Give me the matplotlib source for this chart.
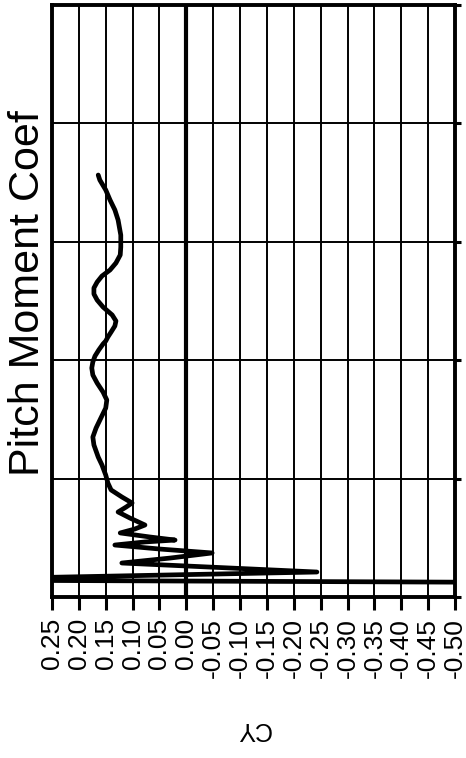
import matplotlib
matplotlib.use("Agg")
import matplotlib.pyplot as plt

plt.rcParams['font.family'] = ['Liberation Sans', 'DejaVu Sans']

# time (arbitrary units, one gridline = 1) and pitch moment coefficient CY
time = [0.118, 0.144, 0.211, 0.287, 0.329, 0.372, 0.405, 0.439, 0.465, 0.481,
        0.507, 0.541, 0.574, 0.608, 0.667, 0.718, 0.760, 0.794, 0.845, 0.904,
        0.963, 1.030, 1.115, 1.182, 1.284, 1.351, 1.427, 1.512, 1.596, 1.664,
        1.731, 1.807, 1.875, 1.934, 1.985, 2.035, 2.086, 2.137, 2.162, 2.196,
        2.238, 2.289, 2.331, 2.382, 2.449, 2.508, 2.559, 2.610, 2.660, 2.711,
        2.762, 2.821, 2.889, 2.956, 3.057, 3.184, 3.269, 3.353, 3.438, 3.522,
        3.564]
cy = [-0.90, 0.50, -0.243, 0.120, 0.030, -0.048, 0.049, 0.133, 0.077, 0.021,
      0.068, 0.123, 0.096, 0.077, 0.105, 0.127, 0.112, 0.101, 0.120, 0.140,
      0.146, 0.150, 0.157, 0.164, 0.172, 0.174, 0.168, 0.159, 0.150, 0.148,
      0.155, 0.166, 0.174, 0.176, 0.174, 0.170, 0.163, 0.155, 0.150, 0.146,
      0.140, 0.133, 0.131, 0.138, 0.155, 0.166, 0.172, 0.172, 0.166, 0.157,
      0.142, 0.131, 0.123, 0.122, 0.122, 0.127, 0.133, 0.142, 0.150, 0.161,
      0.164]

cy_ticks = [0.25, 0.20, 0.15, 0.10, 0.05, 0.00, -0.05, -0.10, -0.15, -0.20,
            -0.25, -0.30, -0.35, -0.40, -0.45, -0.50]
cy_labels = ["0.25", "0.20", "0.15", "0.10", "0.05", "0.00", "-0.05", "-0.10",
             "-0.15", "-0.20", "-0.25", "-0.30", "-0.35", "-0.40", "-0.45", "-0.50"]
time_ticks = [0, 1, 2, 3, 4, 5]

fig = plt.figure(figsize=(4.66, 7.58), dpi=100)
ax = fig.add_axes([52/466, 161/758, 403/466, 592/758])

ax.set_xlim(0.25, -0.50)
ax.set_ylim(0, 5)

# grid
for v in cy_ticks:
    ax.axvline(v, color='black', lw=3.0 if v == 0 else 1.4, zorder=1)
for t in time_ticks[1:-1]:
    ax.axhline(t, color='black', lw=1.4, zorder=1)

ax.plot(cy, time, color='black', lw=3.4, solid_joinstyle='round',
        solid_capstyle='round', zorder=3)

for s in ax.spines.values():
    s.set_linewidth(2.8)
    s.set_zorder(4)

ax.set_xticks(cy_ticks)
ax.set_xticklabels(cy_labels, rotation=90, fontsize=19)
ax.set_yticks(time_ticks)
ax.tick_params(axis='x', direction='out', length=9, width=2.2, pad=6)
ax.tick_params(axis='y', left=False, right=True, labelleft=False,
               labelright=False, direction='out', length=4, width=2.2)

ax.set_xlabel("CY", fontsize=18, rotation=180, labelpad=28)
ax.set_ylabel("Pitch Moment Coef", fontsize=31)
ax.yaxis.set_label_coords(-0.011, 0.513)

fig.savefig("out.png", dpi=100)
